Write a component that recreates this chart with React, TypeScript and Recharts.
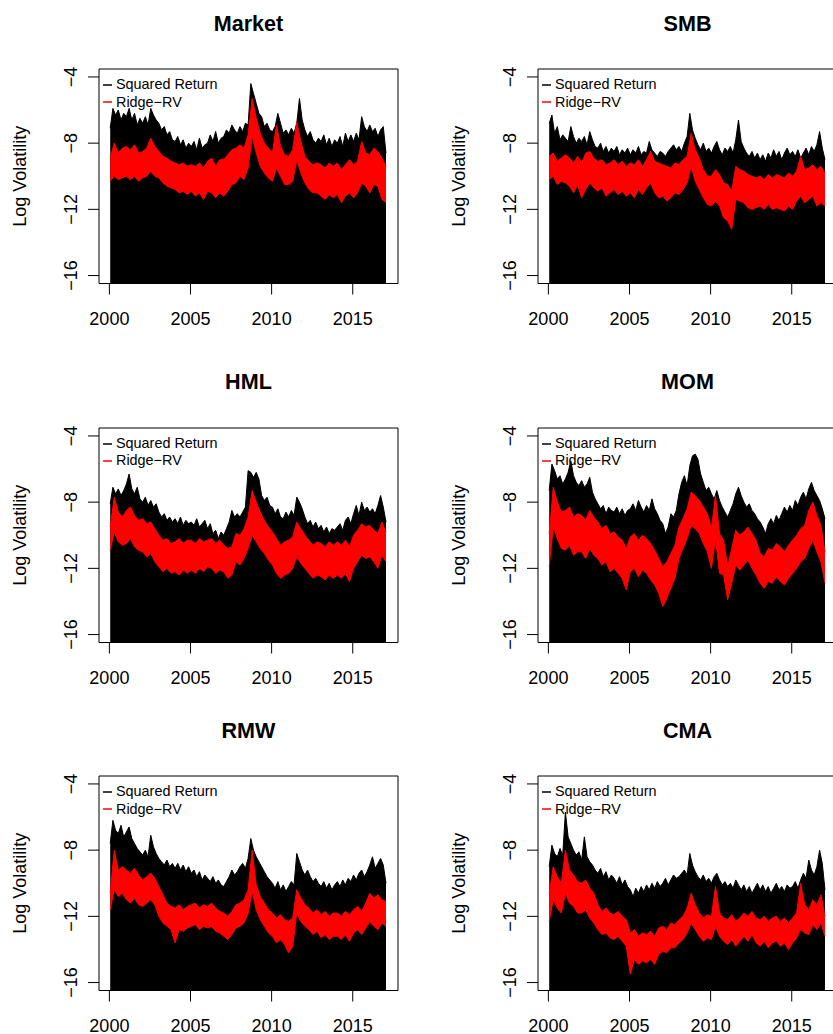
import React from 'react';
import { ComposedChart, Area, XAxis, YAxis, ReferenceArea } from 'recharts';

const FONT = '"Liberation Sans", Arial, Helvetica, sans-serif';

const xTicks = [2000, 2005, 2010, 2015];
const yTicks = [-16, -12, -8, -4];
const xDomain: [number, number] = [1999.36, 2017.79];
const yDomain: [number, number] = [-16.48, -3.52];
const legendLabels = ['Squared Return', 'Ridge\u2212RV'];
const legendColors = ['#000000', '#ff0000'];

// log squared return, upper envelope, one value every two months from 2000
const srMarket = [
  -7.1, -5.9, -6.3, -6.0, -6.6, -6.2,
  -6.4, -5.9, -6.6, -6.2, -6.9, -6.5,
  -6.8, -6.4, -6.9, -5.9, -6.3, -6.6,
  -6.8, -7.2, -7.0, -7.5, -7.3, -7.8,
  -7.9, -7.6, -8.1, -7.8, -8.3, -8.0,
  -8.2, -7.9, -8.4, -7.7, -8.3, -8.1,
  -8.0, -7.5, -7.9, -7.3, -8.0, -7.7,
  -7.6, -7.2, -7.4, -6.9, -7.2, -7.4,
  -7.0, -7.3, -6.8, -6.9, -4.4, -5.0,
  -5.6, -6.2, -6.4, -7.0, -6.8, -7.2,
  -7.3, -7.0, -6.2, -6.8, -7.4, -7.2,
  -7.5, -7.1, -7.4, -6.8, -5.3, -6.6,
  -7.2, -7.6, -7.3, -7.8, -8.0, -7.7,
  -7.9, -7.5, -8.1, -7.7, -8.2, -7.8,
  -8.0, -7.6, -8.2, -7.4, -7.9, -7.5,
  -7.9, -7.4, -7.8, -6.4, -7.0, -7.3,
  -6.9, -7.3, -7.1, -7.6, -7.2, -7.0,
  -8.6,
];
const srSMB = [
  -6.8, -6.3, -7.4, -7.0, -7.8, -7.5,
  -7.7, -7.9, -7.0, -7.6, -8.0, -7.7,
  -7.9, -7.6, -8.1, -7.3, -7.8, -8.2,
  -8.3, -8.0, -8.5, -8.2, -8.6, -8.3,
  -8.5, -8.2, -8.7, -8.4, -8.6, -8.3,
  -8.7, -8.4, -8.6, -8.2, -8.7, -8.5,
  -8.6, -7.9, -8.4, -8.6, -8.8, -8.5,
  -8.6, -8.8, -8.5, -8.3, -8.1, -8.4,
  -8.2, -8.5, -8.0, -7.6, -6.2, -7.2,
  -7.7, -8.1, -8.4, -8.0, -8.5, -8.3,
  -8.6, -8.2, -7.9, -8.4, -8.7, -8.3,
  -8.5, -8.2, -8.6, -7.8, -6.6, -7.9,
  -8.3, -8.6, -8.8, -8.5, -8.9, -8.6,
  -9.0, -8.7, -9.1, -8.6, -8.9, -8.4,
  -8.8, -8.5, -9.0, -8.6, -8.3, -8.7,
  -8.5, -8.8, -8.4, -8.9, -8.6, -8.3,
  -8.7, -8.2, -8.5, -8.1, -7.3, -8.3,
  -9.0,
];
const srHML = [
  -8.1, -7.1, -7.5, -7.2, -7.6, -7.3,
  -6.9, -6.3, -7.2, -7.5, -7.1, -7.8,
  -8.0, -7.7, -8.2, -7.9, -8.3, -8.1,
  -8.6, -8.9, -8.7, -9.1, -8.9, -9.2,
  -9.0, -9.3, -8.9, -9.4, -9.1, -9.3,
  -9.2, -9.4, -9.0, -9.5, -9.3, -9.1,
  -9.6, -9.3, -9.9, -9.7, -10.2, -9.8,
  -10.0, -9.6, -9.2, -8.5, -8.9, -8.7,
  -8.9, -8.6, -8.3, -6.1, -6.2, -6.5,
  -6.2, -6.6, -7.6, -7.9, -7.7, -8.2,
  -8.3, -8.7, -8.4, -8.9, -9.0, -8.6,
  -8.9, -8.5, -8.8, -7.7, -8.0, -8.4,
  -8.9, -9.3, -9.1, -9.5, -9.2, -9.6,
  -9.4, -9.8, -9.5, -9.9, -9.6, -9.7,
  -9.5, -9.3, -9.7, -9.1, -8.9, -9.3,
  -8.7, -8.2, -8.8, -8.0, -8.5, -8.3,
  -8.6, -8.4, -8.7, -8.2, -7.6, -8.3,
  -9.2,
];
const srMOM = [
  -7.3, -5.7, -6.1, -6.6, -6.4, -6.9,
  -6.6, -6.2, -5.5, -6.4, -6.8, -7.0,
  -6.7, -7.1, -6.9, -6.5, -7.4, -7.8,
  -8.1, -8.4, -8.2, -8.7, -8.3, -8.5,
  -8.6, -8.3, -8.7, -8.4, -8.8, -8.5,
  -8.4, -8.1, -8.5, -7.9, -8.3, -8.6,
  -8.2, -8.5, -7.8, -8.4, -8.7, -9.1,
  -9.3, -9.9, -9.5, -8.7, -8.9, -8.5,
  -7.5, -6.8, -6.4, -7.0, -5.8, -5.2,
  -5.1, -5.4, -6.3, -6.8, -7.3, -7.1,
  -7.5, -7.8, -7.3, -7.9, -8.3, -8.6,
  -8.9, -8.5, -8.1, -7.5, -7.1, -7.6,
  -8.0, -8.3, -8.1, -8.5, -8.7, -9.0,
  -9.2, -9.5, -9.9, -9.3, -9.0, -9.3,
  -8.8, -9.1, -8.7, -8.3, -8.6, -8.2,
  -8.5, -7.9, -8.2, -7.7, -7.4, -7.8,
  -7.2, -6.8, -7.3, -7.6, -7.9, -8.4,
  -9.0,
];
const srRMW = [
  -7.6, -6.2, -6.8, -7.0, -6.5, -7.2,
  -6.9, -6.6, -7.3, -7.6, -7.9, -8.1,
  -8.3, -8.0, -8.4, -7.1, -7.8, -8.2,
  -8.5, -8.7, -8.9, -8.6, -9.0, -8.8,
  -9.1, -8.8, -9.2, -8.9, -9.3, -9.0,
  -9.4, -9.2, -9.6, -9.3, -9.8, -9.5,
  -9.7, -9.9, -9.6, -10.0, -9.8, -10.1,
  -10.2, -9.9, -9.6, -9.2, -9.5, -9.3,
  -9.0, -8.8, -9.1, -8.5, -7.3, -8.0,
  -8.4, -8.7, -9.0, -9.3, -9.6, -9.8,
  -10.0, -10.3, -9.9, -10.4, -10.1, -10.5,
  -10.2, -9.9, -10.1, -8.2, -8.7, -9.2,
  -9.5, -9.2, -9.6, -9.9, -9.7, -10.0,
  -10.2, -9.9, -10.3, -10.0, -10.4, -10.1,
  -9.9, -10.2, -9.8, -10.1, -9.7, -9.9,
  -9.5, -9.8, -9.4, -9.2, -9.6, -9.3,
  -8.9, -8.4, -9.1, -8.8, -8.5, -8.9,
  -10.0,
];
const srCMA = [
  -9.0, -7.7, -8.2, -8.4, -7.9, -8.3,
  -5.7, -7.2, -7.6, -8.0, -8.3, -8.1,
  -8.6, -7.2, -8.4, -8.7, -8.9, -9.2,
  -9.4, -9.1, -9.6, -9.3, -9.8, -9.5,
  -9.7, -10.0, -9.6, -10.1, -9.8, -10.2,
  -10.4, -10.8, -10.3, -10.6, -10.2, -10.5,
  -10.1, -10.4, -10.0, -10.3, -9.9, -10.2,
  -10.0, -9.7, -10.1, -9.8, -9.5, -9.7,
  -9.6, -9.4, -9.2, -9.5, -8.2, -8.9,
  -9.3, -9.6, -9.8, -9.5, -9.9, -9.7,
  -10.0, -9.6, -9.4, -9.8, -10.1, -9.9,
  -10.2, -10.0, -10.3, -9.8, -10.1, -10.4,
  -10.1, -10.5, -10.2, -10.6, -10.3, -10.0,
  -10.4, -10.1, -10.5, -10.2, -10.6, -10.3,
  -10.0, -10.4, -10.2, -10.5, -10.1, -10.3,
  -10.2, -9.9, -10.3, -9.8, -9.4, -9.7,
  -8.6, -9.2, -9.5, -9.0, -8.0, -8.8,
  -10.4,
];

// Ridge-RV band (upper and lower edge), one value per quarter from 2000
const rvHiMarket = [
  -8.9, -8.0, -8.6, -8.3, -8.2, -8.4, -8.1, -8.6, -8.5, -8.3, -7.7, -8.2,
  -8.5, -8.8, -8.9, -9.1, -9.2, -9.3, -9.2, -9.4, -9.3, -9.4, -9.2, -9.5,
  -9.1, -8.9, -9.4, -9.0, -9.0, -8.7, -8.4, -8.3, -8.1, -8.3, -7.5, -5.3,
  -6.5, -7.4, -8.0, -8.3, -8.6, -6.9, -8.2, -8.7, -8.8, -8.4, -6.7, -7.9,
  -8.8, -9.1, -9.3, -9.2, -9.3, -9.5, -9.2, -9.4, -9.2, -9.6, -9.3, -9.0,
  -9.3, -9.1, -7.9, -8.6, -8.7, -8.3, -8.5, -8.9, -9.4,
];
const rvLoMarket = [
  -10.3, -10.0, -10.2, -10.1, -10.0, -10.2, -10.0, -10.3, -10.1, -10.0, -9.7, -10.0,
  -10.1, -10.4, -10.6, -10.7, -10.8, -11.0, -10.9, -11.1, -10.9, -11.2, -11.0, -11.4,
  -10.9, -11.0, -11.3, -11.0, -11.2, -10.9, -10.5, -10.4, -10.0, -10.2, -9.5, -7.6,
  -8.6, -9.4, -9.8, -10.1, -10.3, -9.5, -10.0, -10.5, -10.5, -10.3, -9.0, -9.8,
  -10.4, -10.8, -11.0, -11.0, -11.2, -11.4, -11.1, -11.3, -11.1, -11.6, -11.2, -11.0,
  -11.3, -11.0, -10.4, -10.6, -11.0, -10.5, -10.6, -11.4, -11.6,
];
const rvHiSMB = [
  -8.8, -8.6, -9.1, -8.9, -8.7, -8.9, -9.2, -8.8, -9.2, -8.6, -8.5, -8.9,
  -9.1, -9.0, -9.3, -9.2, -9.0, -9.3, -9.1, -9.4, -9.2, -9.3, -9.0, -9.4,
  -9.0, -8.5, -9.1, -9.2, -9.3, -9.4, -9.5, -9.2, -9.3, -9.0, -8.8, -7.4,
  -8.4, -8.9, -9.6, -10.0, -10.0, -9.6, -9.9, -10.4, -10.5, -10.9, -9.4, -9.6,
  -9.7, -9.9, -10.0, -10.1, -10.0, -10.2, -9.9, -10.1, -9.9, -10.0, -10.1, -9.8,
  -10.0, -9.7, -8.8, -9.6, -9.5, -9.3, -9.6, -9.4, -9.8,
];
const rvLoSMB = [
  -10.2, -10.0, -10.5, -10.3, -10.4, -10.6, -11.0, -10.5, -11.3, -10.8, -10.4, -10.7,
  -10.9, -10.7, -11.2, -11.0, -10.8, -11.1, -10.9, -11.2, -11.0, -11.3, -10.8, -11.1,
  -10.7, -10.4, -11.0, -11.3, -11.2, -11.5, -11.3, -11.0, -11.1, -10.8, -10.4, -9.4,
  -10.3, -10.8, -11.3, -11.7, -11.8, -11.5, -11.8, -12.5, -12.7, -13.2, -11.4, -11.5,
  -11.6, -11.9, -12.0, -11.9, -11.8, -12.0, -11.7, -12.0, -11.9, -12.0, -12.1, -11.8,
  -12.0, -11.5, -11.2, -11.6, -11.4, -11.2, -11.8, -11.6, -11.8,
];
const rvHiHML = [
  -9.5, -7.7, -8.6, -8.9, -8.5, -8.3, -8.8, -9.1, -9.0, -9.3, -9.2, -9.6,
  -10.0, -10.3, -10.2, -10.5, -10.4, -10.2, -10.5, -10.3, -10.3, -10.5, -10.2, -10.4,
  -10.3, -10.2, -10.5, -10.3, -10.6, -10.8, -10.7, -9.9, -10.0, -9.6, -8.9, -7.3,
  -8.0, -8.6, -9.1, -9.5, -9.8, -10.2, -10.6, -10.4, -10.3, -10.1, -9.2, -9.6,
  -10.0, -10.3, -10.6, -10.4, -10.5, -10.7, -10.4, -10.6, -10.4, -10.6, -10.3, -10.7,
  -10.0, -9.7, -9.3, -9.5, -9.4, -9.7, -9.9, -9.2, -9.8,
];
const rvLoHML = [
  -10.9, -9.8, -10.4, -10.6, -10.5, -10.2, -10.7, -10.9, -11.0, -11.3, -11.1, -11.6,
  -11.9, -12.2, -12.0, -12.3, -12.2, -12.4, -12.1, -12.3, -12.1, -12.3, -12.0, -12.2,
  -11.9, -12.0, -12.3, -12.1, -12.2, -12.6, -12.4, -11.6, -11.8, -11.4, -10.8, -10.0,
  -10.4, -10.8, -11.1, -11.5, -11.8, -12.3, -12.6, -12.4, -12.3, -12.0, -11.3, -11.7,
  -12.0, -12.3, -12.6, -12.4, -12.5, -12.7, -12.4, -12.6, -12.4, -12.6, -12.3, -12.8,
  -12.0, -11.6, -11.2, -11.4, -11.3, -11.6, -12.0, -11.2, -11.6,
];
const rvHiMOM = [
  -9.9, -7.1, -8.0, -8.6, -8.5, -8.3, -8.9, -8.7, -8.8, -9.1, -8.5, -8.9,
  -9.2, -9.6, -9.4, -9.9, -9.8, -10.1, -10.3, -10.8, -10.1, -9.9, -10.3, -10.0,
  -10.2, -10.5, -10.9, -11.4, -11.9, -11.6, -11.1, -10.6, -9.5, -9.0, -8.4, -7.4,
  -7.6, -7.9, -8.3, -8.7, -9.6, -7.6, -9.9, -10.3, -11.9, -10.8, -9.7, -10.0,
  -9.8, -9.5, -9.9, -10.3, -11.1, -11.3, -10.8, -10.9, -10.5, -10.7, -11.0, -10.6,
  -10.3, -10.0, -9.6, -9.4, -8.5, -8.0, -8.8, -9.4, -11.0,
];
const rvLoMOM = [
  -11.9, -9.5, -10.2, -10.8, -10.9, -10.6, -11.2, -11.0, -11.0, -11.4, -10.8, -11.2,
  -11.4, -11.8, -11.6, -12.2, -12.0, -12.3, -12.6, -13.3, -12.2, -12.0, -12.5, -12.1,
  -12.3, -12.7, -13.0, -13.5, -14.3, -13.8, -13.2, -12.6, -11.4, -10.8, -10.2, -9.4,
  -9.6, -9.9, -10.5, -11.0, -12.0, -10.2, -12.3, -12.4, -13.9, -12.9, -11.8, -12.1,
  -11.8, -11.5, -12.0, -12.4, -12.9, -13.2, -12.8, -12.9, -12.5, -12.8, -13.0, -12.6,
  -12.3, -12.0, -11.6, -11.4, -10.8, -10.3, -11.0, -11.6, -12.9,
];
const rvHiRMW = [
  -10.6, -8.0, -9.2, -9.0, -9.2, -9.4, -9.1, -9.5, -9.8, -9.6, -9.4, -9.7,
  -10.2, -10.7, -11.2, -11.4, -11.5, -11.3, -11.6, -11.4, -11.3, -11.2, -11.5, -11.3,
  -11.4, -11.2, -11.5, -11.7, -11.8, -12.0, -11.7, -11.3, -11.2, -11.0, -10.4, -8.0,
  -10.1, -10.8, -11.2, -11.6, -11.8, -12.1, -11.9, -12.2, -12.3, -12.1, -10.4, -10.9,
  -11.3, -11.5, -11.8, -11.6, -11.9, -11.7, -12.0, -11.8, -11.8, -12.0, -11.7, -11.9,
  -11.6, -11.4, -11.7, -11.2, -10.6, -10.9, -10.7, -11.0, -11.1,
];
const rvLoRMW = [
  -11.6, -10.4, -10.8, -10.6, -11.0, -11.2, -10.9, -11.3, -11.4, -11.2, -11.0, -11.3,
  -12.0, -12.4, -12.6, -12.8, -13.6, -12.8, -12.9, -12.7, -12.6, -12.5, -12.8, -12.6,
  -12.7, -12.6, -12.9, -13.0, -13.2, -13.4, -13.1, -12.7, -12.6, -12.4, -11.8, -10.5,
  -11.6, -12.2, -12.6, -13.0, -13.2, -13.6, -13.4, -13.7, -14.2, -13.8, -11.8, -12.3,
  -12.6, -12.8, -13.1, -12.9, -13.3, -13.1, -13.4, -13.2, -13.2, -13.4, -13.1, -13.5,
  -13.0, -12.8, -13.1, -12.7, -12.3, -12.6, -12.8, -12.4, -12.6,
];
const rvHiCMA = [
  -10.6, -9.0, -9.6, -10.0, -8.0, -9.2, -9.5, -9.9, -10.0, -9.8, -10.3, -10.6,
  -11.3, -11.7, -11.5, -11.8, -11.9, -11.7, -12.0, -12.2, -13.0, -12.8, -13.2, -13.0,
  -13.1, -12.9, -13.2, -12.7, -12.6, -12.8, -12.4, -12.5, -12.2, -12.0, -11.5, -10.6,
  -11.3, -11.8, -12.1, -11.9, -12.0, -10.2, -11.8, -12.1, -12.2, -11.9, -12.3, -12.1,
  -11.8, -12.0, -11.7, -12.1, -12.2, -12.0, -12.3, -12.1, -12.0, -12.3, -12.1, -12.4,
  -12.1, -11.8, -10.0, -11.3, -11.6, -11.0, -11.3, -10.7, -12.0,
];
const rvLoCMA = [
  -12.3, -11.0, -11.5, -11.8, -10.6, -11.2, -11.4, -11.8, -11.8, -11.6, -12.1, -12.4,
  -12.8, -13.1, -13.0, -13.3, -13.4, -13.2, -13.5, -13.8, -15.5, -14.6, -14.9, -14.7,
  -14.8, -14.6, -14.9, -14.3, -14.1, -14.2, -13.9, -13.9, -13.6, -13.4, -13.0, -12.4,
  -12.8, -13.2, -13.5, -13.3, -13.4, -12.6, -13.2, -13.5, -13.7, -13.4, -13.8, -13.5,
  -13.2, -13.5, -13.1, -13.6, -13.8, -13.5, -13.9, -13.6, -13.5, -13.8, -13.6, -14.0,
  -13.6, -13.3, -12.8, -13.0, -13.1, -12.5, -12.8, -12.4, -13.2,
];

const panels = [
  { title: 'Market', sr: srMarket, hi: rvHiMarket, lo: rvLoMarket, x: 0, y: 0 },
  { title: 'SMB', sr: srSMB, hi: rvHiSMB, lo: rvLoSMB, x: 439, y: 0 },
  { title: 'HML', sr: srHML, hi: rvHiHML, lo: rvLoHML, x: 0, y: 358.7 },
  { title: 'MOM', sr: srMOM, hi: rvHiMOM, lo: rvLoMOM, x: 439, y: 358.7 },
  { title: 'RMW', sr: srRMW, hi: rvHiRMW, lo: rvLoRMW, x: 0, y: 707 },
  { title: 'CMA', sr: srCMA, hi: rvHiCMA, lo: rvLoCMA, x: 439, y: 707 },
];

const W = 439;
const H = 340;

const minus = (v: number) => String(v).replace('-', '\u2212');

const YTick = (props: any) => {
  const { x, y, payload } = props;
  const tx = x - 9;
  return (
    <text x={tx} y={y} transform={`rotate(-90 ${tx} ${y})`} textAnchor="middle" fontSize={18} fontFamily={FONT} fill="#000">
      {minus(payload.value)}
    </text>
  );
};

const YTitle = () => (
  <text x={26.2} y={176.25} transform="rotate(-90 26.2 176.25)" textAnchor="middle" fontSize={18} fontFamily={FONT} fill="#000">
    Log Volatility
  </text>
);

// legend sits inside the plot box, top-left, no frame
const LegendBox = () => (
  <div style={{ position: 'absolute', left: 103, top: 76.4, fontFamily: FONT, fontSize: 14.4, lineHeight: '17.3px', color: '#000', whiteSpace: 'nowrap' }}>
    {legendLabels.map((label, i) => (
      <div key={label} style={{ display: 'flex', alignItems: 'center' }}>
        <svg width={13} height={4} style={{ display: 'block' }}>
          <line x1={0} y1={2} x2={9} y2={2} stroke={legendColors[i]} strokeWidth={1.5} />
        </svg>
        <span>{label}</span>
      </div>
    ))}
  </div>
);

function Panel({ title, sr, hi, lo, x, y }: any) {
  const srData = sr.map((v: number, i: number) => ({ t: 2000.05 + i / 6, v }));
  const rvData = hi.map((h: number, i: number) => ({ t: 2000.05 + i * 0.25, r: [lo[i], h] }));
  return (
    <div style={{ position: 'absolute', left: x, top: y, width: W, height: H }}>
      <div style={{ position: 'absolute', left: 99, top: 10.5, width: 299, textAlign: 'center', fontFamily: FONT, fontWeight: 'bold', fontSize: 21.6, lineHeight: '26px' }}>
        {title}
      </div>
      <ComposedChart width={W} height={H} margin={{ top: 69, right: 41, bottom: 16.5, left: 39 }}>
        <XAxis
          dataKey="t"
          type="number"
          domain={xDomain}
          allowDataOverflow
          ticks={xTicks}
          interval={0}
          height={40}
          tickSize={11}
          tickMargin={18}
          axisLine={false}
          tickLine={{ stroke: '#000' }}
          tick={{ fill: '#000', fontSize: 18, fontFamily: FONT }}
        />
        <YAxis
          type="number"
          domain={yDomain}
          allowDataOverflow
          ticks={yTicks}
          interval={0}
          width={60}
          tickSize={11}
          axisLine={false}
          tickLine={{ stroke: '#000' }}
          tick={<YTick />}
          label={<YTitle />}
        />
        <Area data={srData} dataKey="v" type="linear" baseValue={-16.48} stroke="#000" strokeWidth={1} fill="#000" fillOpacity={1} dot={false} activeDot={false} isAnimationActive={false} />
        <Area data={rvData} dataKey="r" type="linear" stroke="#ff0000" strokeWidth={1} fill="#ff0000" fillOpacity={1} dot={false} activeDot={false} isAnimationActive={false} />
        <ReferenceArea x1={xDomain[0]} x2={xDomain[1]} y1={yDomain[0]} y2={yDomain[1]} fill="none" stroke="#000" strokeWidth={1} ifOverflow="visible" />
      </ComposedChart>
      <LegendBox />
    </div>
  );
}

export default function App() {
  return (
    <div style={{ position: 'absolute', left: 0, top: 0, width: 833, height: 1034, overflow: 'hidden', background: '#fff' }}>
      {panels.map((p) => (
        <Panel key={p.title} {...p} />
      ))}
    </div>
  );
}
